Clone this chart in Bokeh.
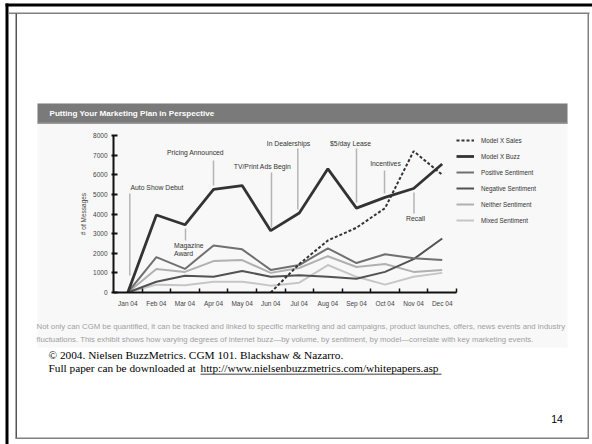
from bokeh.plotting import figure
from bokeh.models import (Range1d, FixedTicker, Legend, LegendItem, GridBox, Column)
from bokeh.embed import file_html
from bokeh.resources import INLINE
from bokeh.core.properties import value

# ---------------- data ----------------
months = ["Jan 04", "Feb 04", "Mar 04", "Apr 04", "May 04", "Jun 04",
          "Jul 04", "Aug 04", "Sep 04", "Oct 04", "Nov 04", "Dec 04"]
model_x_sales = [None, None, None, None, None, 0, 1450, 2650, 3300, 4300, 7200, 6000]
model_x_buzz = [0, 3950, 3450, 5250, 5450, 3150, 4050, 6300, 4300, 4850, 5300, 6550]
positive_sentiment = [0, 1800, 1200, 2400, 2200, 1150, 1400, 2250, 1500, 1950, 1750, 1650]
negative_sentiment = [0, 550, 850, 800, 1100, 800, 880, 800, 700, 1050, 1700, 2750]
neither_sentiment = [0, 1200, 1050, 1600, 1650, 1000, 1250, 1850, 1300, 1450, 1050, 1150]
mixed_sentiment = [0, 400, 370, 550, 550, 350, 500, 1400, 800, 400, 800, 1000]
y_ticks = [0, 1000, 2000, 3000, 4000, 5000, 6000, 7000, 8000]

events = ["Auto Show Debut", "Pricing Announced", "Magazine", "Award",
          "TV/Print Ads Begin", "In Dealerships", "$5/day Lease",
          "Incentives", "Recall"]

title_text = "Putting Your Marketing Plan in Perspective"
caption1 = ("Not only can CGM be quantified, it can be tracked and linked to specific marketing "
            "and ad campaigns, product launches, offers, news events and industry")
caption2 = ("fluctuations. This exhibit shows how varying degrees of internet buzz\u2014by volume, "
            "by sentiment, by model\u2014correlate with key marketing events.")
credit1 = "\u00a9 2004. Nielsen BuzzMetrics. CGM 101. Blackshaw & Nazarro."
credit2 = "Full paper can be downloaded at "
credit_url = "http://www.nielsenbuzzmetrics.com/whitepapers.asp"
page_no = "14"

# ---------------- layout ----------------
W, H = 592, 444
FL, FR, FT, FB = 113, 456, 135, 292
XMAX, YMAX = 12, 8000
FONT = "Liberation Sans"


def X(px):
    return (px - FL) / (FR - FL) * XMAX


def Y(py):
    return (FB - py) / (FB - FT) * YMAX


# background "slide" figure, in pixel coordinates
bg = figure(width=W, height=H, x_range=Range1d(0, W), y_range=Range1d(H, 0),
            x_axis_type=None, y_axis_type=None, min_border=0,
            output_backend="svg", toolbar_location=None)
bg.grid.visible = False
bg.outline_line_color = None
bg.background_fill_color = "white"
bg.border_fill_color = "white"

boxes = [  # left, right, top, bottom, color
    (37, 567, 103, 347, "#f8f8f8"),
    (37, 567, 103, 123, "#7a7a7a"),
    (37, 567, 122, 123.5, "#9a9a9a"),
    (5, 592, 3, 6, "#000000"),
    (5, 8, 3, 444, "#000000"),
    (8, 589, 12, 13.5, "#808080"),
    (15, 16.5, 13, 438, "#555555"),
    (587, 588.5, 13, 438, "#808080"),
    (15, 588.5, 437, 438.5, "#808080"),
    (200, 441, 373.2, 374, "#000000"),
]
bg.quad(left=[b[0] for b in boxes], right=[b[1] for b in boxes],
        top=[b[2] for b in boxes], bottom=[b[3] for b in boxes],
        fill_color=[b[4] for b in boxes], line_color=None)


def btext(x, y, txt, size, color="#000000", font=FONT, style="normal", align="left"):
    bg.text(x=[x], y=[y], text=[txt], text_font=value(font), text_font_size=size,
            text_color=color, text_font_style=style, text_align=align,
            text_baseline="middle")


btext(49, 113, title_text, "8.1px", color="white", style="bold")
btext(36, 326, caption1, "7.8px", color="#a0a0a0")
btext(36, 339, caption2, "7.8px", color="#a0a0a0")
btext(48, 354, credit1, "11.3px", font="Liberation Serif")
btext(48, 367.5, credit2, "11.3px", font="Liberation Serif")
btext(200, 367.5, credit_url, "11.3px", font="Liberation Serif")
btext(556.5, 418.5, page_no, "10.5px", align="center")

# chart figure
p = figure(frame_width=FR - FL, frame_height=FB - FT,
           x_range=Range1d(0, XMAX), y_range=Range1d(0, YMAX),
           output_backend="svg", toolbar_location=None,
           min_border_left=FL, min_border_right=W - FR,
           min_border_top=FT, min_border_bottom=H - FB)
p.border_fill_alpha = 0
p.background_fill_alpha = 0
p.outline_line_color = None
p.grid.visible = False

xs = [i + 0.5 for i in range(len(months))]

xa = p.xaxis[0]
xa.ticker = FixedTicker(ticks=xs, minor_ticks=list(range(1, 13)))
xa.major_label_overrides = {x: m for x, m in zip(xs, months)}
xa.major_tick_in = 0
xa.major_tick_out = 0
xa.minor_tick_in = 4
xa.minor_tick_out = 0
xa.minor_tick_line_color = "#111111"
xa.minor_tick_line_width = 1.5
xa.axis_line_color = "#111111"
xa.axis_line_width = 2
xa.major_label_text_font = FONT
xa.major_label_text_font_size = "6.5px"
xa.major_label_text_color = "#444444"
xa.major_label_standoff = 7

ya = p.yaxis[0]
ya.ticker = FixedTicker(ticks=y_ticks)
ya.major_tick_in = 4
ya.major_tick_out = 2
ya.major_tick_line_color = "#111111"
ya.major_tick_line_width = 2
ya.minor_tick_line_color = None
ya.axis_line_color = "#111111"
ya.axis_line_width = 2
ya.major_label_text_font = FONT
ya.major_label_text_font_size = "6.5px"
ya.major_label_text_color = "#444444"
ya.major_label_standoff = 4
ya.axis_label = "# of Messages"
ya.axis_label_text_font = FONT
ya.axis_label_text_font_size = "6.5px"
ya.axis_label_text_font_style = "normal"
ya.axis_label_text_color = "#444444"
ya.axis_label_standoff = 3

r_mixed = p.line(xs, mixed_sentiment, line_color="#c6c6c6", line_width=2)
r_neither = p.line(xs, neither_sentiment, line_color="#b0b0b0", line_width=2)
r_neg = p.line(xs, negative_sentiment, line_color="#525252", line_width=2)
r_pos = p.line(xs, positive_sentiment, line_color="#707070", line_width=2)
r_buzz = p.line(xs, model_x_buzz, line_color="#333333", line_width=2.8)
sales = [float("nan") if v is None else v for v in model_x_sales]
r_sales = p.line(xs, sales, line_color="#333333", line_width=2, line_dash="3 2")

# event pointers and labels
ptr_x = [X(129.3), X(213), X(185), X(271), X(297.3), X(356), X(384), X(413.5)]
ptr_y0 = [Y(193), Y(160), Y(228), Y(172), Y(148), Y(148), Y(170), Y(192)]
ptr_y1 = [Y(275), Y(185), Y(240), Y(227), Y(209), Y(202), Y(193), Y(213)]
p.segment(x0=ptr_x, y0=ptr_y0, x1=ptr_x, y1=ptr_y1, line_color="#b4b4b4", line_width=1.5)

left_txt = [events[0], events[2], events[3]]
p.text(x=[X(130), X(173.5), X(173.5)], y=[Y(187), Y(245), Y(253)], text=left_txt,
       text_font=value(FONT), text_font_size="6.8px", text_color="#333333",
       text_align="left", text_baseline="middle")
ctr_txt = [events[1], events[4], events[5], events[6], events[7], events[8]]
p.text(x=[X(195), X(262), X(288), X(350), X(385), X(415)],
       y=[Y(152), Y(166), Y(143), Y(143), Y(163), Y(218)], text=ctr_txt,
       text_font=value(FONT), text_font_size="6.8px", text_color="#333333",
       text_align="center", text_baseline="middle")

legend = Legend(items=[
    LegendItem(label="Model X Sales", renderers=[r_sales]),
    LegendItem(label="Model X Buzz", renderers=[r_buzz]),
    LegendItem(label="Positive Sentiment", renderers=[r_pos]),
    LegendItem(label="Negative Sentiment", renderers=[r_neg]),
    LegendItem(label="Neither Sentiment", renderers=[r_neither]),
    LegendItem(label="Mixed Sentiment", renderers=[r_mixed]),
], location="top_left")
legend.margin = 0
legend.padding = 3
legend.spacing = 6
legend.glyph_width = 18
legend.glyph_height = 10
legend.label_height = 10
legend.label_standoff = 7
legend.label_text_font = FONT
legend.label_text_font_size = "6.3px"
legend.label_text_color = "#333333"
legend.border_line_color = None
legend.background_fill_alpha = 0
p.add_layout(legend, "right")

layout = GridBox(children=[(Column(children=[bg]), 0, 0), (Column(children=[p]), 0, 0)])
open("out.html", "w").write(file_html(layout, INLINE))
